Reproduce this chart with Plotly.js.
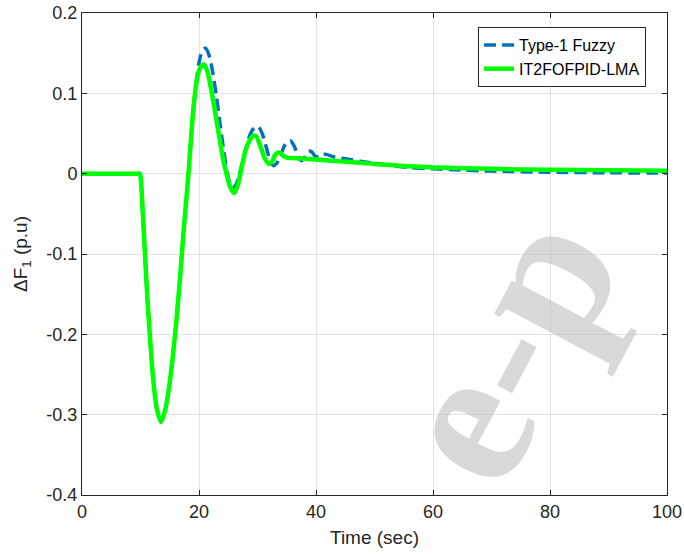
<!DOCTYPE html>
<html>
<head>
<meta charset="utf-8">
<script src="https://cdn.plot.ly/plotly-3.0.1.min.js"></script>
<style>html,body{margin:0;padding:0;background:#fff;}#chart{width:684px;height:556px;}</style>
</head>
<body>
<div id="chart"></div>
<script>
// Type-1 Fuzzy (blue dashed)
const tFuzzy = [0, 3, 6, 8.5, 9.5, 9.9, 10.05, 10.4, 10.8, 11.2, 11.7, 12.2, 12.8, 13.5, 14.2, 15.0, 15.6, 16.2, 16.8, 17.3, 17.8, 18.2, 18.6, 19.0, 19.5, 20.0, 20.5, 21.1, 21.7, 22.3, 23.0, 23.6, 24.2, 24.8, 25.6, 26.3, 27.0, 27.7, 28.4, 29.2, 30.1, 30.8, 31.5, 32.1, 32.7, 33.3, 34.0, 34.8, 35.6, 36.3, 36.9, 37.5, 38.1, 38.7, 39.3, 39.8, 40.5, 41.2, 41.8, 43, 45, 47.5, 51, 56, 60, 63.4, 70, 80, 90, 100];
const yFuzzy = [0, 0, 0, 0, 0, 0, -0.006, -0.05, -0.105, -0.158, -0.212, -0.258, -0.293, -0.309, -0.295, -0.26, -0.222, -0.178, -0.126, -0.078, -0.035, 0.0, 0.04, 0.078, 0.112, 0.138, 0.152, 0.156, 0.148, 0.128, 0.095, 0.062, 0.03, 0.002, -0.018, -0.014, 0.002, 0.022, 0.042, 0.055, 0.059, 0.05, 0.033, 0.017, 0.010, 0.013, 0.024, 0.037, 0.041, 0.034, 0.022, 0.016, 0.021, 0.028, 0.027, 0.022, 0.021, 0.024, 0.024, 0.021, 0.0185, 0.0155, 0.012, 0.0075, 0.006, 0.005, 0.0032, 0.0018, 0.0011, 0.0007];

// IT2FOFPID-LMA (green solid)
const tLMA = [0, 3, 6, 8.5, 9.5, 9.9, 10.05, 10.4, 10.8, 11.2, 11.7, 12.2, 12.8, 13.5, 14.2, 15.0, 15.6, 16.2, 16.8, 17.3, 17.8, 18.2, 18.6, 19.0, 19.5, 19.9, 20.4, 20.85, 21.4, 22.0, 22.4, 23.0, 23.6, 24.2, 24.7, 25.3, 26.0, 26.6, 27.3, 28.0, 28.7, 29.2, 29.7, 30.2, 30.7, 31.3, 32.0, 32.5, 32.9, 33.4, 33.8, 34.4, 35.0, 37.3, 40, 44, 47.5, 51, 54.4, 57, 60, 65, 70, 80, 90, 100];
const yLMA = [0, 0, 0, 0, 0, 0, -0.006, -0.05, -0.105, -0.158, -0.212, -0.258, -0.293, -0.309, -0.295, -0.26, -0.222, -0.178, -0.126, -0.078, -0.035, 0.0, 0.04, 0.078, 0.11, 0.126, 0.134, 0.136, 0.128, 0.108, 0.092, 0.066, 0.04, 0.015, 0.0, -0.016, -0.024, -0.015, 0.008, 0.03, 0.042, 0.047, 0.047, 0.04, 0.03, 0.018, 0.012, 0.015, 0.022, 0.026, 0.026, 0.022, 0.020, 0.019, 0.0175, 0.0155, 0.0135, 0.0115, 0.0098, 0.0088, 0.0078, 0.0068, 0.006, 0.0048, 0.0041, 0.0037];

const xTicks = [0, 20, 40, 60, 80, 100];
const yTicks = [-0.4, -0.3, -0.2, -0.1, 0, 0.1, 0.2];
const yTickText = ['-0.4', '-0.3', '-0.2', '-0.1', '0', '0.1', '0.2'];
const seriesNames = ['Type-1 Fuzzy', 'IT2FOFPID-LMA'];
const watermarkText = 'e-p';

const FONT = 'Liberation Sans, Arial, Helvetica, sans-serif';

const traces = [
  {x: tFuzzy, y: yFuzzy, name: seriesNames[0], type: 'scatter', mode: 'lines',
   line: {color: '#0072BD', width: 3.5, dash: '12px,6px', shape: 'spline', smoothing: 0.7}},
  {x: tLMA, y: yLMA, name: seriesNames[1], type: 'scatter', mode: 'lines',
   line: {color: '#00FF00', width: 4.5, shape: 'spline', smoothing: 0.7}}
];

const axisCommon = {
  showline: true, linecolor: '#262626', linewidth: 1, mirror: 'ticks',
  ticks: 'inside', ticklen: 5, tickcolor: '#262626', tickwidth: 1,
  showgrid: true, gridcolor: '#e3e3e3', gridwidth: 1, zeroline: false,
  tickfont: {family: FONT, size: 18, color: '#262626'}
};

const layout = {
  width: 684, height: 556,
  margin: {l: 82, r: 17, t: 13, b: 61},
  paper_bgcolor: '#ffffff', plot_bgcolor: '#ffffff',
  showlegend: true,
  legend: {x: 0.677, y: 0.971, xanchor: 'left', yanchor: 'top',
    bgcolor: '#ffffff', bordercolor: '#262626', borderwidth: 1,
    font: {family: FONT, size: 16, color: '#000'},
    tracegroupgap: 0},
  xaxis: Object.assign({}, axisCommon, {
    range: [0, 100], tickvals: xTicks, ticktext: xTicks.map(String),
    title: {text: 'Time (sec)', standoff: 10, font: {family: FONT, size: 19, color: '#262626'}}
  }),
  yaxis: Object.assign({}, axisCommon, {
    range: [-0.4, 0.2], tickvals: yTicks, ticktext: yTickText,
    title: {text: 'ΔF<sub>1</sub> (p.u)', standoff: 13, font: {family: FONT, size: 19, color: '#262626'}}
  }),
  annotations: [{
    text: watermarkText, xref: 'paper', yref: 'paper', x: 0.721, y: 0.309,
    xanchor: 'center', yanchor: 'middle',
    showarrow: false, textangle: -62,
    font: {family: 'Liberation Serif, Times New Roman, serif', size: 200, weight: 'bold', color: 'rgba(180,180,180,0.5)'}
  }]
};

Plotly.newPlot('chart', traces, layout, {displayModeBar: false, staticPlot: true});
</script>
</body>
</html>
